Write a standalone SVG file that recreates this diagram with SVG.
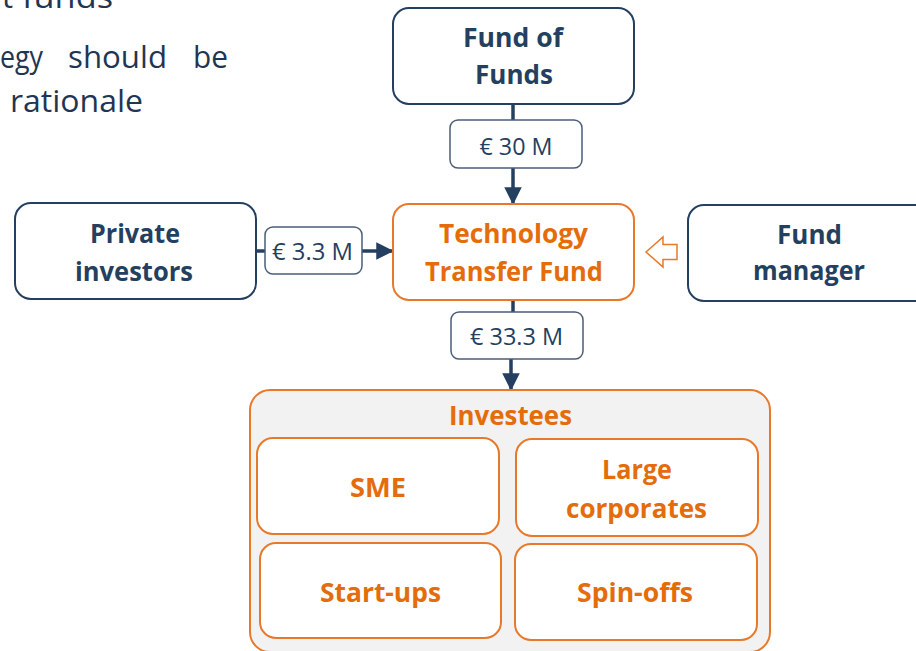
<svg xmlns="http://www.w3.org/2000/svg" width="916" height="651" viewBox="0 0 916 651">
<defs>
<style>
.nav{fill:#fff;stroke:#243F60;stroke-width:2}
.org{fill:#fff;stroke:#E8792B;stroke-width:2}
.lbl{fill:#fff;stroke:#4A5E78;stroke-width:1.5}
.tn{font-family:"Open Sans","Liberation Sans",sans-serif;font-weight:bold;font-size:27px;fill:#243F60;text-anchor:middle}
.to{font-family:"Open Sans","Liberation Sans",sans-serif;font-weight:bold;font-size:27px;fill:#E46C0A;text-anchor:middle}
.tl{font-family:"Open Sans","Liberation Sans",sans-serif;font-size:24px;fill:#243F60;text-anchor:middle}
.body{font-family:"Open Sans","Liberation Sans",sans-serif;font-size:31px;fill:#1F3652}
.conn{stroke:#243F60;stroke-width:3.5;fill:none}
</style>
<marker id="ah" markerWidth="5" markerHeight="5" refX="4.5" refY="2.5" orient="auto" markerUnits="strokeWidth" viewBox="0 0 5 5">
<path d="M0,0 L5,2.5 L0,5 Z" fill="#243F60"/>
</marker>
</defs>
<rect width="916" height="651" fill="#fff"/>

<g id="bodytext">
<text class="body" x="13" y="8" text-anchor="end">nt</text>
<text class="body" x="22" y="8" textLength="91" lengthAdjust="spacingAndGlyphs">funds</text>
<text class="body" x="0" y="68" textLength="43" lengthAdjust="spacingAndGlyphs">egy</text>
<text class="body" x="68" y="68" textLength="99" lengthAdjust="spacingAndGlyphs">should</text>
<text class="body" x="193" y="68" textLength="35" lengthAdjust="spacingAndGlyphs">be</text>
<text class="body" x="10" y="112" textLength="133" lengthAdjust="spacingAndGlyphs">rationale</text>
</g>

<g id="connectors">
<line class="conn" x1="513" y1="104" x2="513" y2="120"/>
<line class="conn" x1="513" y1="168" x2="513" y2="203" marker-end="url(#ah)"/>
<line class="conn" x1="256" y1="251" x2="265" y2="251"/>
<line class="conn" x1="362" y1="251" x2="392" y2="251" marker-end="url(#ah)"/>
<line class="conn" x1="513" y1="300" x2="513" y2="312"/>
<line class="conn" x1="511" y1="359" x2="511" y2="389" marker-end="url(#ah)"/>
<path d="M646,252 L663,237 L663,244.5 L677,244.5 L677,259.5 L663,259.5 L663,267 Z" fill="#fff" stroke="#E8792B" stroke-width="1.5" stroke-linejoin="miter"/>
</g>

<g id="fund-of-funds">
<rect class="nav" x="393" y="8" width="241" height="96" rx="16"/>
<text class="tn" x="513" y="47" textLength="100" lengthAdjust="spacingAndGlyphs">Fund of</text>
<text class="tn" x="514" y="84" textLength="78" lengthAdjust="spacingAndGlyphs">Funds</text>
</g>

<g id="label-30">
<rect class="lbl" x="450" y="120" width="132" height="48" rx="8"/>
<text class="tl" x="516" y="155" textLength="73" lengthAdjust="spacingAndGlyphs">€ 30 M</text>
</g>

<g id="private-investors">
<rect class="nav" x="15" y="203" width="241" height="96" rx="16"/>
<text class="tn" x="135" y="243" textLength="90" lengthAdjust="spacingAndGlyphs">Private</text>
<text class="tn" x="134" y="281" textLength="118" lengthAdjust="spacingAndGlyphs">investors</text>
</g>

<g id="label-3-3">
<rect class="lbl" x="265" y="227" width="97" height="47" rx="8"/>
<text class="tl" x="312.5" y="260" textLength="81" lengthAdjust="spacingAndGlyphs">€ 3.3 M</text>
</g>

<g id="technology-transfer-fund">
<rect class="org" x="393" y="204" width="241" height="96" rx="16"/>
<text class="to" x="513.5" y="243" textLength="149" lengthAdjust="spacingAndGlyphs">Technology</text>
<text class="to" x="514" y="281" textLength="178" lengthAdjust="spacingAndGlyphs">Transfer Fund</text>
</g>

<g id="fund-manager">
<rect class="nav" x="688" y="205" width="250" height="96" rx="16"/>
<text class="tn" x="809.5" y="244" textLength="65" lengthAdjust="spacingAndGlyphs">Fund</text>
<text class="tn" x="809" y="280" textLength="112" lengthAdjust="spacingAndGlyphs">manager</text>
</g>

<g id="label-33-3">
<rect class="lbl" x="451" y="312" width="132" height="47" rx="8"/>
<text class="tl" x="516.5" y="345" textLength="93" lengthAdjust="spacingAndGlyphs">€ 33.3 M</text>
</g>

<g id="investees">
<rect x="250" y="390" width="520" height="262" rx="20" fill="#F2F2F2" stroke="#E8792B" stroke-width="2"/>
<text class="to" x="510.5" y="425" textLength="123" lengthAdjust="spacingAndGlyphs">Investees</text>
</g>

<g id="sme">
<rect class="org" x="257" y="438" width="242" height="96" rx="16"/>
<text class="to" x="378" y="497" textLength="56" lengthAdjust="spacingAndGlyphs">SME</text>
</g>

<g id="large-corporates">
<rect class="org" x="516" y="439" width="242" height="97" rx="16"/>
<text class="to" x="637" y="479" textLength="70" lengthAdjust="spacingAndGlyphs">Large</text>
<text class="to" x="636.5" y="518" textLength="141" lengthAdjust="spacingAndGlyphs">corporates</text>
</g>

<g id="start-ups">
<rect class="org" x="260" y="543" width="241" height="95" rx="16"/>
<text class="to" x="380.5" y="602" textLength="121" lengthAdjust="spacingAndGlyphs">Start-ups</text>
</g>

<g id="spin-offs">
<rect class="org" x="515" y="544" width="242" height="96" rx="16"/>
<text class="to" x="635" y="602" textLength="116" lengthAdjust="spacingAndGlyphs">Spin-offs</text>
</g>
</svg>
